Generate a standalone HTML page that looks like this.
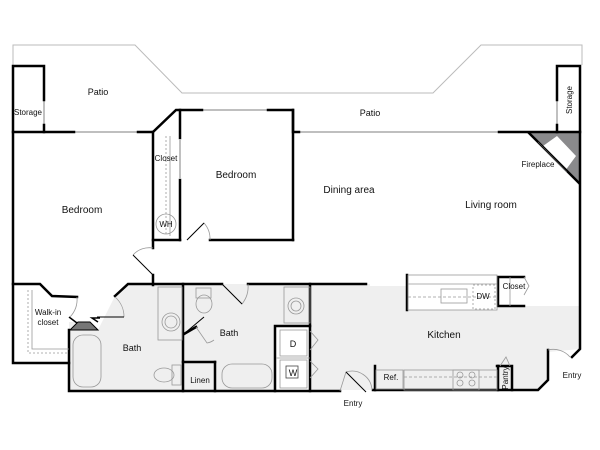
<!DOCTYPE html>
<html><head><meta charset="utf-8"><style>
html,body{margin:0;padding:0;background:#fff;}
svg{display:block;}
text{font-family:"Liberation Sans",sans-serif;font-size:9px;fill:#111;}
</style></head><body>
<svg width="600" height="450" viewBox="0 0 600 450" xmlns="http://www.w3.org/2000/svg">
<polygon points="69,322 78,322 98,330 115,296 128,284 183,284 183,391 69,391" fill="#efefef"/>
<rect x="183" y="284" width="92" height="107" fill="#efefef"/>
<polygon points="275,284 368,284 368,286 407,286 407,310 497,310 497,306 580,306 580,349 548,352 548,380 538,390 310,390 310,326 275,326" fill="#efefef"/>
<rect x="310" y="284" width="60" height="106" fill="#efefef"/>
<polyline points="13,65 13,45 135,45 182,93 433,93 481,45 582,45 582,65" fill="none" stroke="#bbb" stroke-width="1"/>
<g stroke="#aaa" stroke-width="1.5" fill="none">
<line x1="74" y1="132" x2="138" y2="132"/>
<line x1="202" y1="110" x2="268" y2="110"/>
<line x1="293" y1="132" x2="499" y2="132"/>
<line x1="44" y1="100" x2="44" y2="125"/>
<line x1="557" y1="100" x2="557" y2="125"/>
<line x1="180" y1="140" x2="180" y2="178"/>
</g>
<polygon points="528,132 580,132 580,184" fill="#8a8a8c"/>
<polygon points="543,146 557,136 576,156 565,171" fill="#fff"/>
<line x1="528" y1="132" x2="580" y2="184" stroke="#000" stroke-width="2.5"/>
<line x1="538" y1="142" x2="567" y2="172" stroke="#555" stroke-width="0.6"/>
<g stroke="#000" stroke-width="2.5" fill="none" stroke-linecap="square">
<polyline points="44,100 44,66 13,66 13,363 69,363"/>
<line x1="44" y1="125" x2="44" y2="132"/>
<line x1="13" y1="132" x2="74" y2="132"/>
<polyline points="138,132 153,132 176,110 202,110"/>
<polyline points="268,110 293,110 293,132 299,132"/>
<line x1="293" y1="110" x2="293" y2="240"/>
<polyline points="499,132 580,132"/>
<polyline points="557,100 557,66 580,66 580,349 572,357"/>
<line x1="557" y1="125" x2="557" y2="132"/>
<polyline points="548,350 548,380 538,390 373,390"/>
<polyline points="340,391 69,391 69,330"/>
<line x1="153" y1="132" x2="153" y2="248"/>
<line x1="153" y1="240" x2="180" y2="240"/>
<line x1="180" y1="110" x2="180" y2="138"/>
<line x1="180" y1="180" x2="180" y2="240"/>
<line x1="210" y1="240" x2="293" y2="240"/>
<line x1="153" y1="275" x2="153" y2="285"/>
<polyline points="13,284 40,284 52,296 77,297"/>
<polyline points="115,296 128,284 222,284"/>
<line x1="248" y1="284" x2="366" y2="284"/>
<line x1="183" y1="284" x2="183" y2="391"/>
<line x1="310" y1="284" x2="310" y2="326"/>
<polyline points="275,391 275,326 310,326 310,391"/>
<line x1="407" y1="275" x2="407" y2="310"/>
<polyline points="524,277 498,277 498,306 524,306"/>
<polyline points="184,334 196,327"/>
<line x1="215" y1="362" x2="215" y2="391"/>
<line x1="183" y1="362" x2="215" y2="362"/>
<line x1="375" y1="366" x2="375" y2="390"/>
<polyline points="497,366 512,366 512,390"/>
<line x1="498" y1="366" x2="498" y2="390"/>
</g>
<g stroke="#000" stroke-width="1.5" fill="none">
<polyline points="69,317 77,323"/>
<polyline points="98,322 92,318 100,318"/>
</g>
<polygon points="70,330 98,330 90,322 78,322" fill="#777" stroke="#000" stroke-width="1"/>
<g stroke="#999" stroke-width="0.8" fill="none">
<line x1="166" y1="136" x2="166" y2="236" stroke-dasharray="2,2"/>
<line x1="170" y1="136" x2="170" y2="236"/>
<circle cx="166" cy="224" r="10"/>
<polyline points="28,290 28,353 69,353" stroke-dasharray="2,2"/>
<polyline points="32,290 32,349 69,349"/>
<rect x="73" y="335" width="28" height="52" rx="10"/>
<rect x="158" y="287" width="24" height="53"/>
<circle cx="171" cy="322" r="9"/><circle cx="171" cy="322" r="6"/>
<rect x="172" y="365" width="9" height="20"/>
<ellipse cx="164" cy="375" rx="10" ry="7"/>
<rect x="196" y="288" width="15" height="10"/>
<ellipse cx="204" cy="304" rx="8" ry="9"/>
<rect x="222" y="364" width="50" height="24" rx="10"/>
<rect x="284" y="287" width="26" height="36"/>
<circle cx="296" cy="306" r="8"/><circle cx="296" cy="306" r="5"/>
<line x1="276" y1="358" x2="310" y2="358"/>
<rect x="280" y="330" width="27" height="26"/><rect x="280" y="360" width="27" height="28"/>
<rect x="286" y="366" width="12" height="12" stroke="#444"/>
<rect x="408" y="275" width="89" height="35"/>
<line x1="408" y1="284" x2="497" y2="284"/>
<line x1="408" y1="297" x2="497" y2="297" stroke-dasharray="3,2"/>
<rect x="441" y="289" width="26" height="14"/>
<rect x="473" y="285" width="22" height="24" stroke-dasharray="2,2"/>
<line x1="510" y1="277" x2="510" y2="306"/>
<polyline points="524,277 529,286 524,295"/>
<rect x="376" y="370" width="27" height="19"/>
<rect x="404" y="370" width="93" height="20"/>
<line x1="404" y1="377" x2="497" y2="377" stroke-dasharray="3,2"/>
<rect x="453" y="370" width="26" height="20"/>
<circle cx="460" cy="375" r="3"/><circle cx="472" cy="375" r="3"/>
<circle cx="460" cy="383" r="3"/><circle cx="472" cy="383" r="3"/>
<polyline points="500,366 506,357 510,366"/>
<path d="M187,240 L204,223 A24,24 0 0 1 210,240"/>
<path d="M133,255 A22,22 0 0 1 153,248"/>
<path d="M77,297 A26,26 0 0 1 70,317"/>
<path d="M222,284 L242,304 A28,28 0 0 0 248,284"/>
<path d="M196,327 L207,343 A16,16 0 0 0 214,340"/>
<path d="M115,297 A26,26 0 0 1 124,317"/>
<path d="M340,391 L346,372 A20,20 0 0 1 372,390"/>
<path d="M548,350 A22,22 0 0 1 570,357"/>
<path d="M310,331 L318,340 L310,350 M310,361 L318,369 L310,378"/>
</g>
<line x1="153" y1="275" x2="133" y2="255" stroke="#000" stroke-width="1"/>
<line x1="97" y1="317" x2="124" y2="317" stroke="#000" stroke-width="1"/>
<line x1="346" y1="372" x2="366" y2="392" stroke="#000" stroke-width="1"/>
<line x1="187" y1="240" x2="204" y2="223" stroke="#000" stroke-width="1"/>
<line x1="222" y1="284" x2="242" y2="304" stroke="#000" stroke-width="1"/>
<line x1="185" y1="333" x2="204" y2="317" stroke="#000" stroke-width="1"/>
<text x="98" y="95" text-anchor="middle">Patio</text>
<text x="28" y="115" text-anchor="middle" style="font-size:8px">Storage</text>
<text x="370" y="116" text-anchor="middle">Patio</text>
<text transform="translate(572,100) rotate(-90)" text-anchor="middle" style="font-size:8px">Storage</text>
<text x="166" y="161" text-anchor="middle" style="font-size:8px">Closet</text>
<text x="236" y="178" text-anchor="middle" style="font-size:10px">Bedroom</text>
<text x="82" y="213" text-anchor="middle" style="font-size:10px">Bedroom</text>
<text x="166" y="227" text-anchor="middle" style="font-size:8px">WH</text>
<text x="349" y="193" text-anchor="middle" style="font-size:10px">Dining area</text>
<text x="491" y="208" text-anchor="middle" style="font-size:10px">Living room</text>
<text x="538" y="167" text-anchor="middle" style="font-size:8px">Fireplace</text>
<text x="48" y="315" text-anchor="middle" style="font-size:8px">Walk-in</text>
<text x="48" y="325" text-anchor="middle" style="font-size:8px">closet</text>
<text x="132" y="351" text-anchor="middle">Bath</text>
<text x="229" y="336" text-anchor="middle">Bath</text>
<text x="293" y="347" text-anchor="middle">D</text>
<text x="293" y="376" text-anchor="middle">W</text>
<text x="200" y="383" text-anchor="middle" style="font-size:8px">Linen</text>
<text x="444" y="338" text-anchor="middle" style="font-size:10px">Kitchen</text>
<text x="483" y="299" text-anchor="middle" style="font-size:8px">DW</text>
<text x="514" y="289" text-anchor="middle" style="font-size:8px">Closet</text>
<text x="391" y="380" text-anchor="middle" style="font-size:8px">Ref.</text>
<text transform="translate(508,378) rotate(-90)" text-anchor="middle" style="font-size:8px">Pantry</text>
<text x="353" y="406" text-anchor="middle" style="font-size:8px">Entry</text>
<text x="572" y="378" text-anchor="middle" style="font-size:8px">Entry</text>
</svg>
</body></html>
